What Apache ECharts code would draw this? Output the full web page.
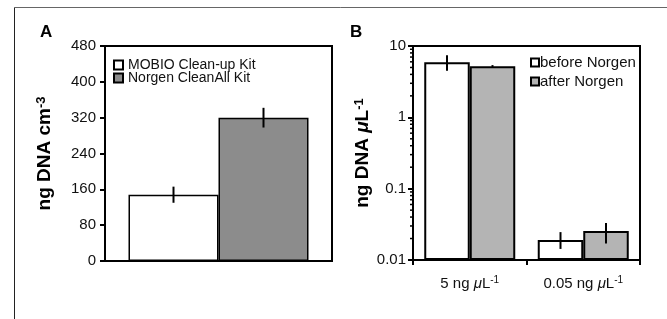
<!DOCTYPE html>
<html><head><meta charset="utf-8">
<script src="https://cdn.jsdelivr.net/npm/echarts@6/dist/echarts.min.js"></script>
<style>html,body{margin:0;padding:0;background:#fff}#c{width:667px;height:319px}</style>
</head><body><div id="c"></div>
<script>
// Panel A
const catsA = [''];
const mobio = [148];
const mobioErr = [18];
const norgen = [320];
const norgenErr = [22];
const ticksA = [0, 80, 160, 240, 320, 400, 480];
// Panel B
const catsB = ['5 ng μL-1', '0.05 ng μL-1'];
const before = [5.9, 0.019];
const beforeLo = [4.5, 0.0143];
const beforeHi = [7.4, 0.0246];
const after = [5.2, 0.0255];
const afterLo = [5.0, 0.017];
const afterHi = [5.4, 0.033];

const FONT = 'Liberation Sans, Arial, Helvetica, sans-serif';
const chart = echarts.init(document.getElementById('c'), null, {renderer: 'canvas'});

function errSeries(name, xi, yi, lows, highs, side, bw) {
  return {
    type: 'custom', name: name, xAxisIndex: xi, yAxisIndex: yi, z: 10, silent: true,
    data: lows.map((lo, i) => [i, lo, highs[i]]),
    renderItem: function (params, api) {
      const p1 = api.coord([api.value(0), api.value(1)]);
      const p2 = api.coord([api.value(0), api.value(2)]);
      const x = p1[0] + side * bw / 2;
      return {type: 'line', shape: {x1: x, y1: p1[1], x2: x, y2: p2[1]},
        style: {stroke: '#000', lineWidth: 2}};
    }
  };
}

// minor log ticks values (2..9 per decade)
const minorVals = [];
[0.01, 0.1, 1].forEach(d => { for (let k = 2; k <= 9; k++) minorVals.push(d * k); });

const bwA = 90, bwB = 45.5;

chart.setOption({
  animation: false,
  textStyle: {fontFamily: FONT},
  grid: [
    {left: 105, top: 46, width: 227, height: 215, show: true, borderColor: '#000', borderWidth: 2, backgroundColor: 'transparent'},
    {left: 413, top: 46, width: 227, height: 214, show: true, borderColor: '#000', borderWidth: 2, backgroundColor: 'transparent'}
  ],
  xAxis: [
    {type: 'category', gridIndex: 0, data: catsA,
      axisLine: {lineStyle: {color: '#000', width: 2}}, axisTick: {show: false}, axisLabel: {show: false}},
    {type: 'category', gridIndex: 1, data: catsB,
      axisLine: {lineStyle: {color: '#000', width: 2}},
      axisTick: {show: true, length: 5, lineStyle: {color: '#000', width: 2}},
      axisLabel: {interval: 0, margin: 13, color: '#111', fontSize: 15, fontFamily: FONT,
        formatter: function (v) {
          const m = v.match(/^(.*) ng μL(-1)$/);
          return '{n|' + m[1] + ' ng }{m|μ}{n|L}{s|' + m[2] + '}';
        },
        rich: {
          n: {fontSize: 15, fontFamily: FONT, color: '#111', verticalAlign: 'bottom', lineHeight: 18},
          m: {fontSize: 15, fontFamily: FONT, color: '#111', fontStyle: 'italic', verticalAlign: 'bottom', lineHeight: 18},
          s: {fontSize: 10, fontFamily: FONT, color: '#111', verticalAlign: 'bottom', lineHeight: 18, padding: [0, 0, 6, 0]}
        }}}
  ],
  yAxis: [
    {type: 'value', gridIndex: 0, min: 0, max: 480, interval: 80,
      name: '{a|ng DNA cm}{s|-3}', nameLocation: 'middle', nameGap: 51, nameRotate: 90,
      nameTextStyle: {rich: {
        a: {fontSize: 19, fontWeight: 'bold', fontFamily: FONT, color: '#000', verticalAlign: 'bottom', lineHeight: 22},
        s: {fontSize: 13, fontWeight: 'bold', fontFamily: FONT, color: '#000', verticalAlign: 'bottom', lineHeight: 22, padding: [0, 0, 6, 0]}
      }},
      axisLine: {show: true, lineStyle: {color: '#000', width: 2}},
      axisTick: {show: true, length: 5, lineStyle: {color: '#000', width: 2}},
      axisLabel: {margin: 9, color: '#111', fontSize: 15, fontFamily: FONT},
      splitLine: {show: false}},
    {type: 'log', gridIndex: 1, min: 0.01, max: 10, logBase: 10, startValue: 0.01,
      name: '{a|ng DNA }{m|μ}{a|L}{s|-1}', nameLocation: 'middle', nameGap: 41, nameRotate: 90,
      nameTextStyle: {rich: {
        a: {fontSize: 19, fontWeight: 'bold', fontFamily: FONT, color: '#000', verticalAlign: 'bottom', lineHeight: 22},
        m: {fontSize: 19, fontWeight: 'bold', fontStyle: 'italic', fontFamily: FONT, color: '#000', verticalAlign: 'bottom', lineHeight: 22},
        s: {fontSize: 13, fontWeight: 'bold', fontFamily: FONT, color: '#000', verticalAlign: 'bottom', lineHeight: 22, padding: [0, 0, 6, 0]}
      }},
      axisLine: {show: true, lineStyle: {color: '#000', width: 2}},
      axisTick: {show: true, length: 5, lineStyle: {color: '#000', width: 2}},
      axisLabel: {margin: 7, color: '#111', fontSize: 15, fontFamily: FONT,
        formatter: function (v) { return String(+v.toPrecision(3)); }},
      splitLine: {show: false}}
  ],
  legend: [
    {left: 113, top: 58, padding: 0, orient: 'vertical', itemGap: -1, itemWidth: 9, itemHeight: 9, icon: 'rect',
      data: ['MOBIO Clean-up Kit', 'Norgen CleanAll Kit'],
      textStyle: {fontSize: 14, fontFamily: FONT, color: '#111'}},
    {left: 525, top: 50, orient: 'vertical', itemGap: 4, itemWidth: 8, itemHeight: 8, icon: 'rect',
      data: ['before Norgen', 'after Norgen'],
      textStyle: {fontSize: 15, fontFamily: FONT, color: '#111', padding: [4, 0, 0, -4]}}
  ],
  series: [
    {type: 'bar', name: 'MOBIO Clean-up Kit', xAxisIndex: 0, yAxisIndex: 0, data: mobio, barWidth: bwA, barGap: '0%',
      itemStyle: {color: '#fff', borderColor: '#000', borderWidth: 1.5}},
    {type: 'bar', name: 'Norgen CleanAll Kit', xAxisIndex: 0, yAxisIndex: 0, data: norgen, barWidth: bwA, barGap: '0%',
      itemStyle: {color: '#8c8c8c', borderColor: '#000', borderWidth: 1.5}},
    {type: 'bar', name: 'before Norgen', xAxisIndex: 1, yAxisIndex: 1, data: before, barWidth: bwB, barGap: '0%',
      itemStyle: {color: '#fff', borderColor: '#000', borderWidth: 2}},
    {type: 'bar', name: 'after Norgen', xAxisIndex: 1, yAxisIndex: 1, data: after, barWidth: bwB, barGap: '0%',
      itemStyle: {color: '#b4b4b4', borderColor: '#000', borderWidth: 2}},
    errSeries('errA1', 0, 0, mobio.map((v, i) => v - mobioErr[i]), mobio.map((v, i) => v + mobioErr[i]), -1, bwA),
    errSeries('errA2', 0, 0, norgen.map((v, i) => v - norgenErr[i]), norgen.map((v, i) => v + norgenErr[i]), 1, bwA),
    errSeries('errB1', 1, 1, beforeLo, beforeHi, -1, bwB),
    errSeries('errB2', 1, 1, afterLo, afterHi, 1, bwB),
    {type: 'custom', name: 'minorTicks', xAxisIndex: 1, yAxisIndex: 1, silent: true, z: 10,
      data: minorVals.map(v => [0, v]),
      renderItem: function (params, api) {
        const p = api.coord([0, api.value(1)]);
        const x0 = params.coordSys.x;
        return {type: 'line', shape: {x1: x0 - 3, y1: p[1], x2: x0, y2: p[1]},
          style: {stroke: '#000', lineWidth: 1.5}};
      }}
  ],
  graphic: [
    {type: 'line', shape: {x1: 14.5, y1: 7.5, x2: 667, y2: 7.5}, style: {stroke: '#666', lineWidth: 1}},
    {type: 'line', shape: {x1: 14.5, y1: 7.5, x2: 14.5, y2: 319}, style: {stroke: '#222', lineWidth: 1}},
    {type: 'text', left: 40, top: 24, style: {text: 'A', font: 'bold 17px ' + FONT, fill: '#000'}},
    {type: 'text', left: 350, top: 24, style: {text: 'B', font: 'bold 17px ' + FONT, fill: '#000'}}
  ]
});
</script></body></html>
